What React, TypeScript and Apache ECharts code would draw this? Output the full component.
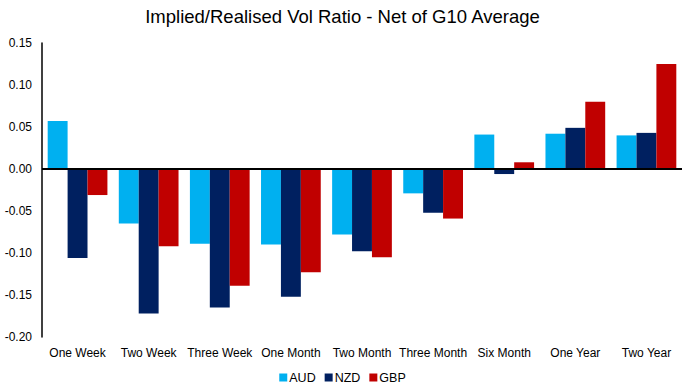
import React, { useEffect, useRef } from "react";
import * as echarts from "echarts";

const categories = ["One Week", "Two Week", "Three Week", "One Month", "Two Month", "Three Month", "Six Month", "One Year", "Two Year"];
const audValues = [0.057, -0.065, -0.089, -0.090, -0.078, -0.029, 0.041, 0.042, 0.040];
const nzdValues = [-0.106, -0.172, -0.165, -0.152, -0.098, -0.052, -0.006, 0.049, 0.043];
const gbpValues = [-0.031, -0.092, -0.139, -0.123, -0.105, -0.059, 0.008, 0.080, 0.125];
const yTicks = { min: -0.2, max: 0.15, interval: 0.05 };

const FONT = "'Liberation Sans', Arial, sans-serif";

export default function App() {
  const ref = useRef<HTMLDivElement>(null);
  useEffect(() => {
    if (!ref.current) return;
    const chart = echarts.init(ref.current, null, { renderer: "svg" });
    chart.setOption({
      animation: false,
      textStyle: { fontFamily: FONT },
      title: {
        text: "Implied/Realised Vol Ratio - Net of G10 Average",
        left: "center",
        top: 2,
        textStyle: { fontFamily: FONT, fontSize: 18.5, fontWeight: "normal", color: "#000" },
      },
      legend: {
        bottom: -2,
        left: "center",
        itemWidth: 8,
        itemHeight: 8,
        itemGap: 9,
        icon: "rect",
        textStyle: { fontFamily: FONT, fontSize: 12.5, color: "#000", padding: [0, 0, 0, -3] },
        data: ["AUD", "NZD", "GBP"],
      },
      grid: { left: 42, right: 3, top: 43, bottom: 50, containLabel: false },
      xAxis: {
        type: "category",
        data: categories,
        axisLine: { show: false, onZero: false },
        axisTick: { show: false },
        axisLabel: { color: "#000", fontSize: 12, fontFamily: FONT, margin: 10, interval: 0 },
      },
      yAxis: {
        type: "value",
        min: yTicks.min,
        max: yTicks.max,
        interval: yTicks.interval,
        axisLine: { show: true, lineStyle: { color: "#000", width: 1.5 } },
        axisTick: { show: false },
        splitLine: { show: false },
        axisLabel: {
          color: "#000",
          fontSize: 12,
          fontFamily: FONT,
          margin: 10,
          formatter: (v: number) => v.toFixed(2),
        },
      },
      series: [
        {
          name: "AUD",
          type: "bar",
          data: audValues,
          itemStyle: { color: "#00B0F0" },
          barGap: "0%",
          barCategoryGap: "16%",
          markLine: {
            silent: true,
            symbol: "none",
            label: { show: false },
            lineStyle: { color: "#000", width: 2, type: "solid" },
            data: [{ yAxis: 0 }],
          },
        },
        { name: "NZD", type: "bar", data: nzdValues, itemStyle: { color: "#002060" }, barGap: "0%", barCategoryGap: "16%" },
        { name: "GBP", type: "bar", data: gbpValues, itemStyle: { color: "#C00000" }, barGap: "0%", barCategoryGap: "16%" },
      ],
    });
    return () => chart.dispose();
  }, []);
  return <div ref={ref} style={{ width: 685, height: 387, position: "absolute", left: 0, top: 0 }} />;
}
